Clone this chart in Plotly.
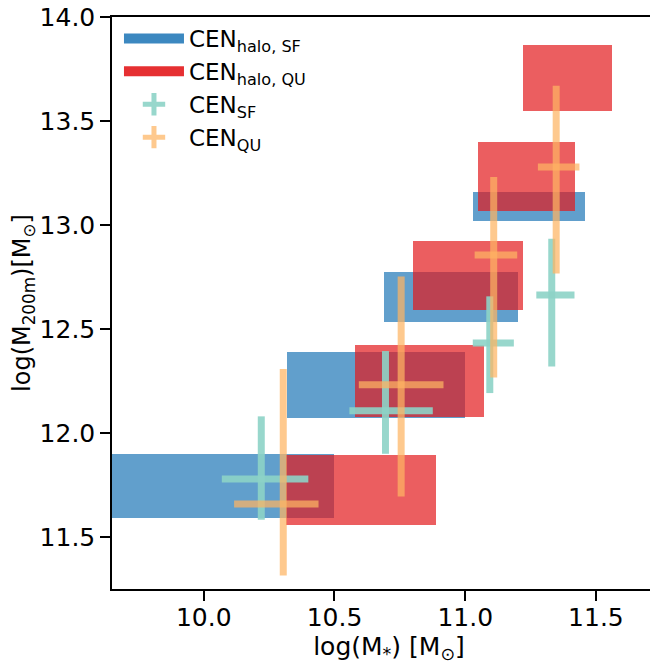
import plotly.graph_objects as go

# ---- data ----
halo_sf_xlo = [9.50, 10.32, 10.69, 11.03]
halo_sf_xhi = [10.50, 11.00, 11.20, 11.46]
halo_sf_ylo = [11.59, 12.07, 12.535, 13.02]
halo_sf_yhi = [11.90, 12.39, 12.775, 13.16]

halo_qu_xlo = [10.315, 10.58, 10.80, 11.05, 11.22]
halo_qu_xhi = [10.89, 11.07, 11.22, 11.42, 11.56]
halo_qu_ylo = [11.56, 12.075, 12.59, 13.065, 13.55]
halo_qu_yhi = [11.895, 12.425, 12.925, 13.40, 13.865]

sf_x = [10.22, 10.695, 11.094, 11.331]
sf_xlo = [10.069, 10.557, 11.029, 11.272]
sf_xhi = [10.40, 10.876, 11.186, 11.418]
sf_y = [11.779, 12.107, 12.433, 12.663]
sf_ylo = [11.583, 11.90, 12.192, 12.32]
sf_yhi = [12.08, 12.394, 12.657, 12.934]

qu_x = [10.304, 10.755, 11.109, 11.348]
qu_xlo = [10.116, 10.593, 11.036, 11.278]
qu_xhi = [10.439, 10.917, 11.199, 11.437]
qu_y = [11.659, 12.232, 12.856, 13.279]
qu_ylo = [11.315, 11.695, 12.267, 12.767]
qu_yhi = [12.308, 12.753, 13.231, 13.670]

x_ticks = [10.0, 10.5, 11.0, 11.5]
y_ticks = [11.5, 12.0, 12.5, 13.0, 13.5, 14.0]

BLUE = "rgba(49,130,189,0.77)"
RED = "rgba(227,26,28,0.70)"
TEAL = "rgba(141,211,199,0.9)"
ORANGE = "rgba(253,180,98,0.72)"
FONT = "DejaVu Sans"


def box_trace(xlo, xhi, ylo, yhi, color):
    return go.Bar(
        x=[(a + b) / 2 for a, b in zip(xlo, xhi)],
        width=[b - a for a, b in zip(xlo, xhi)],
        base=ylo,
        y=[b - a for a, b in zip(ylo, yhi)],
        marker=dict(color=color, line=dict(width=0)),
        showlegend=False,
        hoverinfo="skip",
    )


def err_trace(x, xlo, xhi, y, ylo, yhi, color):
    return go.Scatter(
        x=x, y=y, mode="markers",
        marker=dict(size=0.1, color="rgba(0,0,0,0)"),
        error_x=dict(type="data", symmetric=False,
                     array=[b - a for a, b in zip(x, xhi)],
                     arrayminus=[a - b for a, b in zip(x, xlo)],
                     color=color, thickness=7, width=0),
        error_y=dict(type="data", symmetric=False,
                     array=[b - a for a, b in zip(y, yhi)],
                     arrayminus=[a - b for a, b in zip(y, ylo)],
                     color=color, thickness=7, width=0),
        showlegend=False,
    )


fig = go.Figure()
fig.add_trace(box_trace(halo_sf_xlo, halo_sf_xhi, halo_sf_ylo, halo_sf_yhi, BLUE))
fig.add_trace(box_trace(halo_qu_xlo, halo_qu_xhi, halo_qu_ylo, halo_qu_yhi, RED))
fig.add_trace(err_trace(sf_x, sf_xlo, sf_xhi, sf_y, sf_ylo, sf_yhi, TEAL))
fig.add_trace(err_trace(qu_x, qu_xlo, qu_xhi, qu_y, qu_ylo, qu_yhi, ORANGE))

# legend entries
fig.add_trace(go.Scatter(x=[None], y=[None], mode="lines",
                         line=dict(color="rgba(49,130,189,0.95)", width=10),
                         name="CEN<sub>halo, SF</sub>"))
fig.add_trace(go.Scatter(x=[None], y=[None], mode="lines",
                         line=dict(color="rgba(227,26,28,0.9)", width=10),
                         name="CEN<sub>halo, QU</sub>"))
fig.add_trace(go.Scatter(x=[None], y=[None], mode="markers",
                         marker=dict(symbol="cross-thin-open", size=16, color=TEAL,
                                     line=dict(color=TEAL, width=5)),
                         name="CEN<sub>SF</sub>"))
fig.add_trace(go.Scatter(x=[None], y=[None], mode="markers",
                         marker=dict(symbol="cross-thin-open", size=16, color=ORANGE,
                                     line=dict(color=ORANGE, width=5)),
                         name="CEN<sub>QU</sub>"))

# page body has an 8px offset; figure sized/margined to place the plot area
fig.update_layout(
    width=658, height=656,
    margin=dict(l=104, r=0, t=9, b=75),
    paper_bgcolor="white", plot_bgcolor="white",
    barmode="overlay", bargap=0,
    font=dict(family=FONT, size=24, color="black"),
    legend=dict(x=0.0126, y=1.0, xanchor="left", yanchor="top",
                bgcolor="rgba(255,255,255,0)", font=dict(size=23),
                itemwidth=60, tracegroupgap=0),
    xaxis=dict(
        range=[9.649, 11.768], tickvals=x_ticks,
        ticktext=[f"{v:.1f}" for v in x_ticks],
        ticks="outside", ticklen=10, tickwidth=2, tickcolor="black",
        showline=True, linewidth=1.5, linecolor="black", mirror=True,
        showgrid=False, zeroline=False, automargin=False,
        tickfont=dict(size=25), ticklabelstandoff=-5,
        ticklabeloverflow="allow",
        title=dict(text="log(M<sub>*</sub>) [M<sub>⊙</sub>]", font=dict(size=25), standoff=4),
    ),
    yaxis=dict(
        range=[11.25, 14.0], tickvals=y_ticks,
        ticktext=[f"{v:.1f}" for v in y_ticks],
        ticks="outside", ticklen=10, tickwidth=2, tickcolor="black",
        showline=True, linewidth=1.5, linecolor="black",
        showgrid=False, zeroline=False, automargin=False,
        tickfont=dict(size=25), ticklabeloverflow="allow",
        title=dict(text="log(M<sub>200m</sub>)[M<sub>⊙</sub>]", font=dict(size=24), standoff=4),
    ),
)

fig.write_html("out.html")
